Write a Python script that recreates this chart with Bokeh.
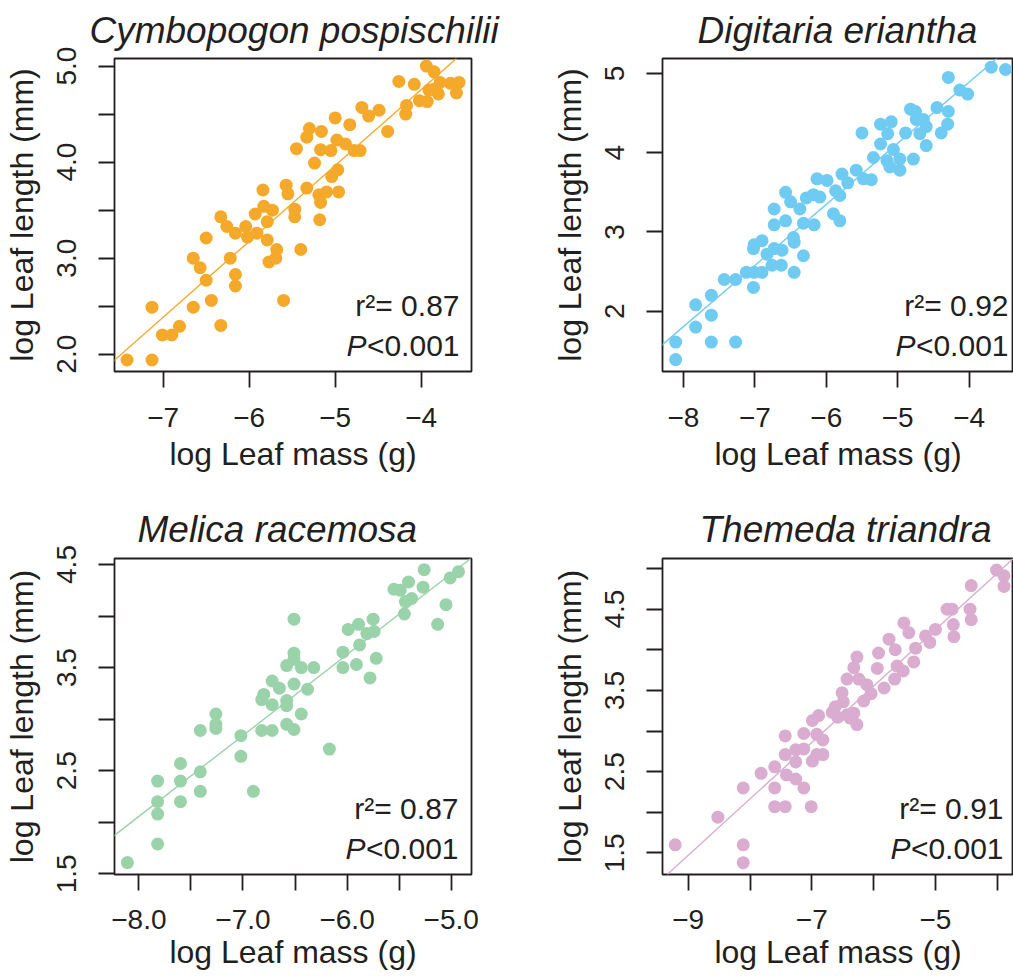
import math
from bokeh.plotting import figure
from bokeh.layouts import gridplot
from bokeh.models import Range1d, FixedTicker, Slope, Label
from bokeh.embed import file_html
from bokeh.resources import INLINE

FONT = "Liberation Sans"
INK = "#231F20"

# ---------------- data ----------------
titles = ["Cymbopogon pospischilii", "Digitaria eriantha", "Melica racemosa", "Themeda triandra"]
colors = ["#F4A92B", "#6FCBF1", "#9AD3AA", "#DAACD0"]
r2_text = ["r²= 0.87", "r²= 0.92", "r²= 0.87", "r²= 0.91"]
p_text = "<0.001"

cymbo_x = [-7.42, -7.13, -7.13, -7.01, -6.90, -6.81, -6.65, -6.65, -6.57, -6.50,
           -6.50, -6.44, -6.33, -6.33, -6.26, -6.22, -6.16, -6.16, -6.16, -6.04,
           -6.02, -5.91, -5.93, -5.84, -5.83, -5.79, -5.73, -5.79, -5.77, -5.69,
           -5.68, -5.60, -5.57, -5.55, -5.47, -5.47, -5.45, -5.40, -5.33, -5.30,
           -5.33, -5.24, -5.19, -5.17, -5.18, -5.16, -5.17, -5.10, -5.05, -5.04,
           -5.00, -4.98, -4.97, -4.96, -4.88, -4.83, -4.78, -4.71, -4.69, -4.61,
           -4.49, -4.39, -4.26, -4.18, -4.17, -4.08, -4.02, -3.94, -3.93, -3.85,
           -3.85, -3.80, -3.78, -3.66, -3.59, -3.56, -3.91]
cymbo_y = [1.94, 1.94, 2.49, 2.20, 2.20, 2.29, 2.49, 3.00, 2.90, 2.77,
           3.21, 2.56, 2.30, 3.43, 3.33, 3.00, 2.83, 2.71, 3.26, 3.33,
           3.22, 3.26, 3.46, 3.71, 3.54, 3.38, 3.50, 3.19, 2.96, 3.00,
           3.09, 2.56, 3.76, 3.67, 3.51, 3.43, 4.14, 3.09, 4.26, 4.35,
           3.73, 3.99, 3.66, 3.58, 3.40, 4.32, 4.13, 3.69, 4.12, 3.85,
           4.46, 4.23, 3.92, 3.69, 4.19, 4.39, 4.12, 4.12, 4.57, 4.48,
           4.54, 4.32, 4.84, 4.50, 4.59, 4.81, 4.64, 5.00, 4.63, 4.94,
           4.76, 4.71, 4.83, 4.82, 4.72, 4.83, 4.75]

digit_x = [-8.11, -8.11, -7.83, -7.83, -7.61, -7.61, -7.61, -7.43, -7.27, -7.27,
           -7.12, -7.02, -7.01, -6.90, -7.02, -7.01, -6.90, -6.83, -6.76, -6.73,
           -6.63, -6.62, -6.73, -6.73, -6.57, -6.57, -6.50, -6.46, -6.45, -6.45,
           -6.37, -6.32, -6.32, -6.28, -6.18, -6.17, -6.13, -6.09, -5.99, -5.90,
           -5.87, -5.81, -5.81, -5.78, -5.70, -5.58, -5.50, -5.48, -5.37, -5.34,
           -5.24, -5.24, -5.14, -5.09, -5.15, -5.11, -5.06, -4.97, -4.97, -4.89,
           -4.82, -4.78, -4.75, -4.74, -4.69, -4.64, -4.60, -4.60, -4.45, -4.39,
           -4.30, -4.29, -4.29, -4.13, -4.02, -3.69, -3.49]
digit_y = [1.39, 1.61, 1.80, 2.08, 1.95, 1.61, 2.20, 2.40, 2.40, 1.61,
           2.49, 2.30, 2.49, 2.49, 2.79, 2.84, 2.89, 2.72, 2.58, 2.79,
           2.58, 2.77, 3.09, 3.29, 3.50, 3.14, 3.38, 2.93, 2.87, 2.49,
           3.29, 2.70, 3.11, 3.43, 3.47, 3.09, 3.67, 3.44, 3.65, 3.23,
           3.52, 3.14, 3.46, 3.73, 3.62, 3.78, 4.25, 3.67, 3.66, 3.94,
           4.36, 4.11, 4.24, 4.39, 3.90, 3.82, 4.04, 3.78, 3.92, 4.25,
           4.55, 3.92, 4.52, 4.42, 4.24, 4.42, 4.33, 4.09, 4.57, 4.25,
           4.36, 4.52, 4.95, 4.79, 4.74, 5.08, 5.05]

melica_x = [-8.11, -7.82, -7.82, -7.82, -7.82, -7.60, -7.60, -7.60, -7.41, -7.41,
            -7.41, -7.26, -7.26, -7.26, -7.02, -7.02, -6.90, -6.82, -6.72, -6.82,
            -6.80, -6.72, -6.72, -6.65, -6.58, -6.58, -6.58, -6.58, -6.51, -6.51,
            -6.51, -6.51, -6.51, -6.44, -6.44, -6.38, -6.32, -6.17, -6.04, -6.04,
            -5.99, -5.91, -5.89, -5.88, -5.81, -5.78, -5.75, -5.74, -5.72, -5.55,
            -5.49, -5.45, -5.44, -5.41, -5.38, -5.27, -5.26, -5.13, -5.05, -5.01,
            -4.93]
melica_y = [1.61, 1.79, 2.08, 2.20, 2.40, 2.20, 2.40, 2.57, 2.30, 2.49,
            2.89, 2.91, 2.95, 3.05, 2.84, 2.64, 2.30, 2.89, 2.89, 3.19,
            3.24, 3.37, 3.14, 3.30, 3.52, 3.18, 3.13, 2.95, 3.97, 3.64,
            3.58, 3.34, 2.90, 3.50, 3.05, 3.29, 3.50, 2.71, 3.65, 3.50,
            3.87, 3.53, 3.92, 3.72, 3.83, 3.40, 3.97, 3.85, 3.59, 4.26,
            4.25, 4.02, 4.14, 4.33, 4.17, 4.28, 4.45, 3.92, 4.11, 4.37,
            4.43]

themeda_x = [-9.21, -8.11, -8.11, -8.52, -8.11, -7.82, -7.60, -7.60, -7.43, -7.01,
             -7.60, -7.43, -7.43, -7.41, -7.26, -7.26, -7.26, -7.13, -7.13, -7.13,
             -6.99, -6.99, -6.92, -6.92, -6.89, -6.82, -6.82, -6.67, -6.62, -6.58,
             -6.51, -6.49, -6.43, -6.38, -6.32, -6.27, -6.32, -6.27, -6.24, -6.16,
             -6.11, -6.04, -5.94, -5.92, -5.83, -5.75, -5.65, -5.66, -5.62, -5.52,
             -5.51, -5.43, -5.35, -5.32, -5.16, -5.09, -5.00, -4.81, -4.73, -4.71,
             -4.70, -4.44, -4.42, -4.42, -4.01, -3.89, -3.89, -6.43]
themeda_y = [1.60, 1.60, 1.38, 1.94, 2.30, 2.48, 2.30, 2.07, 2.07, 2.07,
             2.56, 2.94, 2.71, 2.46, 2.62, 2.77, 2.41, 2.30, 2.78, 2.97,
             3.13, 2.63, 2.71, 2.96, 3.19, 2.89, 2.71, 3.23, 3.30, 3.17,
             3.47, 3.36, 3.64, 3.16, 3.22, 3.08, 3.78, 3.91, 3.64, 3.37,
             3.57, 3.46, 3.77, 3.96, 3.53, 4.13, 4.00, 3.64, 3.80, 3.74,
             4.33, 4.21, 3.85, 4.02, 4.17, 4.09, 4.25, 4.50, 4.50, 4.31,
             4.16, 4.50, 4.37, 4.79, 4.98, 4.91, 4.78, 3.20]

# fitted regression lines (slope, intercept)
fit_slope = [0.790, 0.771, 0.7845, 0.694]
fit_intercept = [7.915, 7.974, 8.333, 7.717]

# axis ranges
x_lims = [(-7.566, -3.415), (-8.294, -3.378), (-8.234, -4.805), (-9.416, -3.736)]
y_lims = [(1.82, 5.079), (1.239, 5.189), (1.494, 4.558), (1.235, 5.123)]

# ticks and tick labels
x_ticks = [[-7, -6, -5, -4], [-8, -7, -6, -5, -4],
           [-8.0, -7.5, -7.0, -6.5, -6.0, -5.5, -5.0], [-9, -8, -7, -6, -5, -4]]
x_tick_labels = [["−7", "−6", "−5", "−4"], ["−8", "−7", "−6", "−5", "−4"],
                 ["−8.0", "", "−7.0", "", "−6.0", "", "−5.0"], ["−9", "", "−7", "", "−5", ""]]
y_ticks = [[2.0, 2.5, 3.0, 3.5, 4.0, 4.5, 5.0], [2, 3, 4, 5],
           [1.5, 2.0, 2.5, 3.0, 3.5, 4.0, 4.5], [1.5, 2.0, 2.5, 3.0, 3.5, 4.0, 4.5, 5.0]]
y_tick_labels = [["2.0", "", "3.0", "", "4.0", "", "5.0"], ["2", "3", "4", "5"],
                 ["1.5", "", "2.5", "", "3.5", "", "4.5"], ["1.5", "", "2.5", "", "3.5", "", "4.5", ""]]

xs = [cymbo_x, digit_x, melica_x, themeda_x]
ys = [cymbo_y, digit_y, melica_y, themeda_y]

# layout (pixels)
fig_w = [505, 508, 505, 508]
fig_h = [496, 496, 484, 484]
border_l = [114, 157, 114, 157]
border_r = [34, 0, 34, 0]
border_t = [58, 58, 62, 62]
border_b = [125, 125, 106, 106]
ann_inset = [12, 5, 13, 10]
title_left = [-25, 35, 23, 37]
title_gap = [15, 15, 17, 17]
xlab_gap = [20, 20, 19, 19]
xaxis_gap = [6, 6, 2, 2]


def make_panel(i):
    p = figure(width=fig_w[i], height=fig_h[i], output_backend="svg", toolbar_location=None,
               x_range=Range1d(*x_lims[i]), y_range=Range1d(*y_lims[i]),
               min_border_left=border_l[i], min_border_right=border_r[i],
               min_border_top=border_t[i], min_border_bottom=border_b[i],
               title=titles[i])
    p.background_fill_color = "white"
    p.border_fill_color = "white"
    p.outline_line_color = INK
    p.outline_line_width = 1.8
    p.grid.visible = False

    p.title.align = "left"
    p.title.offset = title_left[i]
    p.title.standoff = title_gap[i]
    p.title.vertical_align = "bottom"
    p.title.text_font = FONT
    p.title.text_font_style = "italic"
    p.title.text_font_size = "37px"
    p.title.text_color = INK

    for ax in (p.xaxis[0], p.yaxis[0]):
        ax.axis_line_color = None
        ax.major_tick_line_color = INK
        ax.major_tick_line_width = 1.8
        ax.major_tick_in = 0
        ax.major_tick_out = 16
        ax.minor_tick_line_color = None
        ax.major_label_text_font = FONT
        ax.major_label_text_font_size = "28px"
        ax.major_label_text_color = INK
        ax.axis_label_text_font = FONT
        ax.axis_label_text_font_size = "32px"
        ax.axis_label_text_font_style = "normal"
        ax.axis_label_text_color = INK

    p.xaxis.ticker = FixedTicker(ticks=x_ticks[i])
    p.xaxis.major_label_overrides = {t: s for t, s in zip(x_ticks[i], x_tick_labels[i])}
    p.xaxis.major_label_standoff = xlab_gap[i]
    p.xaxis.axis_label = "log Leaf mass (g)"
    p.xaxis.axis_label_standoff = xaxis_gap[i]

    p.yaxis.ticker = FixedTicker(ticks=y_ticks[i])
    p.yaxis.major_label_overrides = {t: s for t, s in zip(y_ticks[i], y_tick_labels[i])}
    p.yaxis.major_label_orientation = "vertical"
    p.yaxis.major_label_standoff = 22
    p.yaxis.axis_label = "log Leaf length (mm)"
    p.yaxis.axis_label_standoff = 15

    p.scatter(xs[i], ys[i], size=13, fill_color=colors[i], line_color=None)
    p.add_layout(Slope(gradient=fit_slope[i], y_intercept=fit_intercept[i],
                       line_color=colors[i], line_width=1.4))

    xe = x_lims[i][1]
    ys0 = y_lims[i][0]
    p.add_layout(Label(x=xe, y=ys0, x_offset=-ann_inset[i], y_offset=66, text=r2_text[i],
                       text_align="right", text_baseline="alphabetic", text_font=FONT,
                       text_font_size="30px", text_color=INK))
    p.add_layout(Label(x=xe, y=ys0, x_offset=-ann_inset[i], y_offset=26, text=p_text,
                       text_align="right", text_baseline="alphabetic", text_font=FONT,
                       text_font_size="30px", text_color=INK))
    p.add_layout(Label(x=xe, y=ys0, x_offset=-ann_inset[i] - 93, y_offset=26, text="P",
                       text_align="right", text_baseline="alphabetic", text_font=FONT,
                       text_font_style="italic", text_font_size="30px", text_color=INK))
    return p


panels = [make_panel(i) for i in range(4)]
grid = gridplot([[panels[0], panels[1]], [panels[2], panels[3]]], toolbar_location=None)

open("out.html", "w").write(file_html(grid, INLINE))
